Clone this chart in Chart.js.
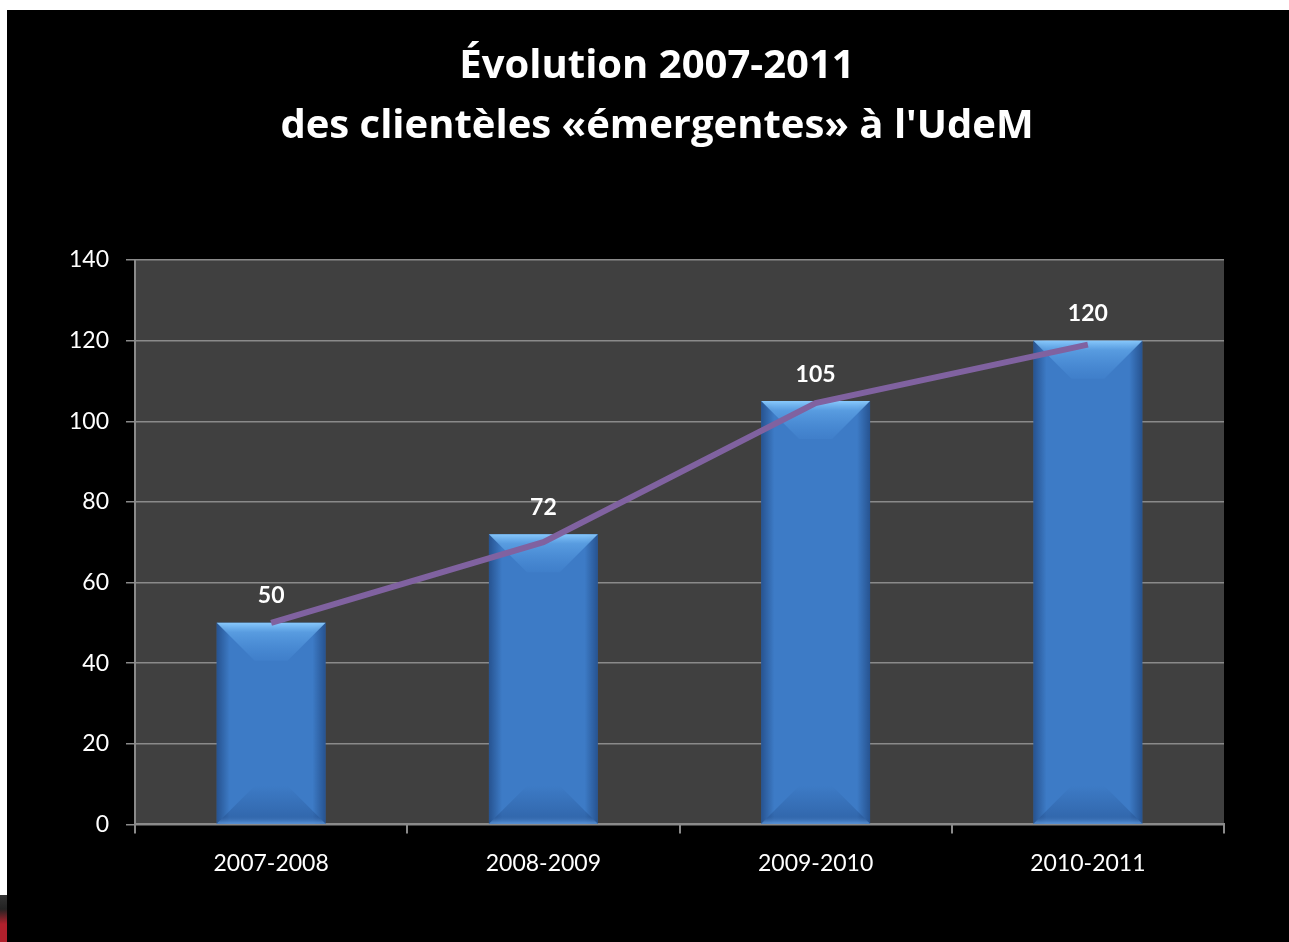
<!DOCTYPE html>
<html>
<head>
<meta charset="utf-8">
<script src="https://cdn.jsdelivr.net/npm/chart.js@4.4.1/dist/chart.umd.min.js"></script>
<style>
  html, body { margin: 0; padding: 0; background: #fff; width: 1289px; height: 942px; overflow: hidden; }
  #frame { position: absolute; left: 7px; top: 10px; width: 1282px; height: 932px; background: #000; }
  #edge { position: absolute; left: 0; top: 895px; width: 7px; height: 47px; background: linear-gradient(#333 0, #222 30%, #b0202c 62%, #b0202c 100%); }
</style>
</head>
<body>
<div id="edge"></div>
<div id="frame"><canvas id="chart" width="1282" height="932"></canvas></div>
<script>
// values
const years = ["2007-2008", "2008-2009", "2009-2010", "2010-2011"];
const clienteles = [50, 72, 105, 120];
const trendLine = [50, 70, 104.5, 119];
const yTicks = [0, 20, 40, 60, 80, 100, 120, 140];

const FONT = "Lato, 'Open Sans', sans-serif";
const TITLE_FONT = "'Open Sans', Lato, sans-serif";

// dark plot background
const plotBg = {
  id: "plotBg",
  beforeDraw(chart) {
    const { ctx, chartArea: a } = chart;
    ctx.save();
    ctx.fillStyle = "#404040";
    ctx.fillRect(a.left, a.top, a.right - a.left, a.bottom - a.top);
    ctx.restore();
  }
};

// bevel look on the bars + value labels
const bevel = {
  id: "bevel",
  afterDatasetDraw(chart, args) {
    if (args.index !== 0) return;
    const { ctx } = chart;
    const meta = chart.getDatasetMeta(0);
    ctx.save();
    meta.data.forEach((bar, i) => {
      const w = bar.width;
      const l = bar.x - w / 2, r = bar.x + w / 2;
      const t = bar.y, b = bar.base;
      const d = Math.min(38, (b - t) / 2);

      // side shading
      const side = ctx.createLinearGradient(l, 0, r, 0);
      side.addColorStop(0, "rgba(20,50,100,0.55)");
      side.addColorStop(0.12, "rgba(20,50,100,0.0)");
      side.addColorStop(0.88, "rgba(20,50,100,0.0)");
      side.addColorStop(1, "rgba(20,50,100,0.55)");
      ctx.fillStyle = side;
      ctx.fillRect(l, t, w, b - t);

      // top bevel
      const top = ctx.createLinearGradient(0, t, 0, t + d);
      top.addColorStop(0, "rgba(140,205,255,0.95)");
      top.addColorStop(0.25, "rgba(100,170,235,0.7)");
      top.addColorStop(1, "rgba(80,150,225,0.15)");
      ctx.fillStyle = top;
      ctx.beginPath();
      ctx.moveTo(l, t);
      ctx.lineTo(r, t);
      ctx.lineTo(r - d, t + d);
      ctx.lineTo(l + d, t + d);
      ctx.closePath();
      ctx.fill();

      // bottom bevel
      const bot = ctx.createLinearGradient(0, b - d, 0, b);
      bot.addColorStop(0, "rgba(30,70,130,0.0)");
      bot.addColorStop(0.8, "rgba(30,70,130,0.35)");
      bot.addColorStop(1, "rgba(90,150,220,0.9)");
      ctx.fillStyle = bot;
      ctx.beginPath();
      ctx.moveTo(l, b);
      ctx.lineTo(r, b);
      ctx.lineTo(r - d, b - d);
      ctx.lineTo(l + d, b - d);
      ctx.closePath();
      ctx.fill();

      // value label
      ctx.fillStyle = "#fff";
      ctx.font = "bold 23px " + FONT;
      ctx.textAlign = "center";
      ctx.textBaseline = "middle";
      ctx.fillText(String(clienteles[i]), bar.x, t - 27);
    });
    ctx.restore();
  }
};

new Chart(document.getElementById("chart"), {
  type: "bar",
  data: {
    labels: years,
    datasets: [
      {
        label: "Clientèles",
        data: clienteles,
        backgroundColor: "#3D7BC6",
        borderWidth: 0,
        barPercentage: 0.4,
        categoryPercentage: 1,
        order: 1
      },
      {
        type: "line",
        label: "Tendance",
        data: trendLine,
        borderColor: "#8062A0",
        borderWidth: 6,
        pointRadius: 0,
        tension: 0,
        order: 0
      }
    ]
  },
  options: {
    responsive: false,
    animation: false,
    layout: { padding: { left: 18, right: 0, top: 0, bottom: 49 } },
    plugins: {
      legend: { display: false },
      tooltip: { enabled: false },
      title: {
        display: true,
        text: ["Évolution 2007-2011", "des clientèles «émergentes» à l'UdeM"],
        color: "#fff",
        font: { family: TITLE_FONT, size: 40, weight: "bold", lineHeight: 1.5 },
        padding: { top: 27, bottom: 103 }
      }
    },
    scales: {
      x: {
        offset: true,
        grid: {
          offset: true,
          drawOnChartArea: false,
          color: "#8a8a8a",
          tickLength: 9,
          lineWidth: 2
        },
        border: { color: "#8a8a8a", width: 2 },
        ticks: { color: "#fff", font: { family: FONT, size: 23 }, padding: 16 }
      },
      y: {
        min: 0,
        max: 140,
        afterBuildTicks(axis) { axis.ticks = yTicks.map((v) => ({ value: v })); },
        afterFit(axis) { axis.width = 110; },
        grid: { color: "#8a8a8a", tickLength: 9, lineWidth: 1.5 },
        border: { color: "#8a8a8a", width: 2 },
        ticks: { color: "#fff", font: { family: FONT, size: 23 }, padding: 17 }
      },
      // empty right-hand spacer so the title stays centred on the slide
      yR: {
        position: "right",
        grid: { display: false },
        border: { display: false },
        ticks: { display: false },
        afterFit(axis) { axis.width = 65; }
      }
    }
  },
  plugins: [plotBg, bevel]
});
</script>
</body>
</html>
